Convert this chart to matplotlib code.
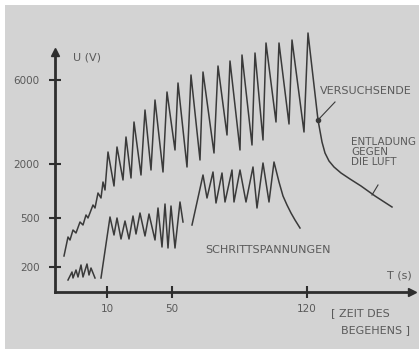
import numpy as np
import matplotlib.pyplot as plt
from matplotlib.patches import Rectangle

# chart units: the axes are schematic (not linear in time or voltage)
xtick_pos = [52, 117, 252]
xtick_lab = ['10', '50', '120']
ytick_pos = [25, 74, 128, 212]
ytick_lab = ['200', '500', '2000', '6000']

# upper curve (Beruehrungsspannung bis Versuchsende und Entladung)
up_x = [9, 13, 15, 18, 21, 25, 28, 31, 33, 38, 40, 43, 46, 48, 50, 53, 59, 62, 68, 71,
        76, 79, 86, 90, 96, 100, 108, 112, 120, 123, 132, 136, 145, 148, 159, 163, 172, 175,
        185, 187, 197, 200, 208, 211, 221, 224, 234, 237, 249, 253, 263, 265, 267, 270, 274,
        279, 286, 295, 306, 320, 337]
up_y = [36, 55, 52, 62, 59, 70, 67, 77, 74, 87, 84, 99, 94, 110, 102, 140, 106, 145, 112, 155,
        114, 170, 117, 182, 122, 192, 120, 200, 142, 209, 125, 217, 132, 220, 139, 226, 157, 231,
        142, 237, 147, 239, 152, 249, 170, 249, 168, 252, 160, 259, 172, 161, 150, 139, 131,
        125, 119, 113, 106, 96, 85]

# lower curve (Schrittspannungen), three pieces
lo_x = [13, 17, 18, 21, 23, 26, 28, 32, 34, 36, 40, np.nan,
        46, 55, 59, 62, 66, 70, 74, 78, 81, 85, 90, 94, 100, 103, 107, 110, 113, 116, 120, 125, 128, np.nan,
        137, 148, 152, 158, 161, 167, 170, 177, 179, 185, 191, 198, 202, 208, 214, 219, 224, 228, 232,
        236, 240, 245]
lo_y = [12, 20, 14, 22, 15, 27, 15, 28, 17, 24, 14, np.nan,
        14, 75, 57, 74, 53, 71, 53, 76, 58, 79, 56, 78, 52, 84, 45, 88, 44, 86, 44, 90, 70, np.nan,
        67, 117, 94, 120, 89, 119, 90, 122, 90, 122, 90, 125, 84, 129, 90, 130, 110, 96, 87,
        79, 72, 64]

ink = '#3a3a3a'
txt = '#5a5a5a'

fig = plt.figure(figsize=(4.19, 3.49), dpi=100, facecolor='white')
fig.patches.append(Rectangle((5/419, 0), 1, 1 - 5/349, transform=fig.transFigure,
                             facecolor='#d3d3d3', edgecolor='none', zorder=-10))
ax = fig.add_axes([55/419, 57/349, 357/419, 240/349])
ax.set_facecolor('none')
ax.set_xlim(0, 357)
ax.set_ylim(0, 240)

for s in ['top', 'right']:
    ax.spines[s].set_visible(False)
for s in ['left', 'bottom']:
    ax.spines[s].set_linewidth(2)
    ax.spines[s].set_color('#2e2e2e')
ax.plot(0, 1, '^', color='#2e2e2e', ms=6, transform=ax.transAxes, clip_on=False)
ax.plot(1, 0, '>', color='#2e2e2e', ms=6, transform=ax.transAxes, clip_on=False)

ax.set_xticks(xtick_pos)
ax.set_xticklabels(xtick_lab)
ax.set_yticks(ytick_pos)
ax.set_yticklabels(ytick_lab)
ax.tick_params(direction='inout', length=8, width=1.5, color='#2e2e2e',
               labelsize=7.5, labelcolor=txt, pad=5)
ax.tick_params(axis='y', pad=7)

ax.plot(up_x, up_y, color=ink, lw=1.1, clip_on=False)
ax.plot(lo_x, lo_y, color=ink, lw=1.1, clip_on=False)
ax.plot(263, 172, 'o', color=ink, ms=3)

# labels and leaders
ax.plot([263, 280], [172, 190], color=ink, lw=0.8)
ax.plot([317, 323], [97, 107], color=ink, lw=0.8)
kw = dict(fontsize=8, color=txt, clip_on=False)
ax.text(18, 235, 'U (V)', ha='left', va='center', **kw)
ax.text(357, 17, 'T (s)', ha='right', va='center', **kw)
ax.text(265, 201, 'VERSUCHSENDE', ha='left', va='center', **kw)
ax.text(296, 140, 'ENTLADUNG\nGEGEN\nDIE LUFT', ha='left', va='center', linespacing=1.05,
        fontsize=7.5, color=txt, clip_on=False)
ax.text(150, 42, 'SCHRITTSPANNUNGEN', ha='left', va='center', **kw)
ax.text(276, -21, '[ ZEIT DES', ha='left', va='center', **kw)
ax.text(286, -38, 'BEGEHENS ]', ha='left', va='center', **kw)

fig.savefig('out.png', dpi=100, facecolor=fig.get_facecolor())
